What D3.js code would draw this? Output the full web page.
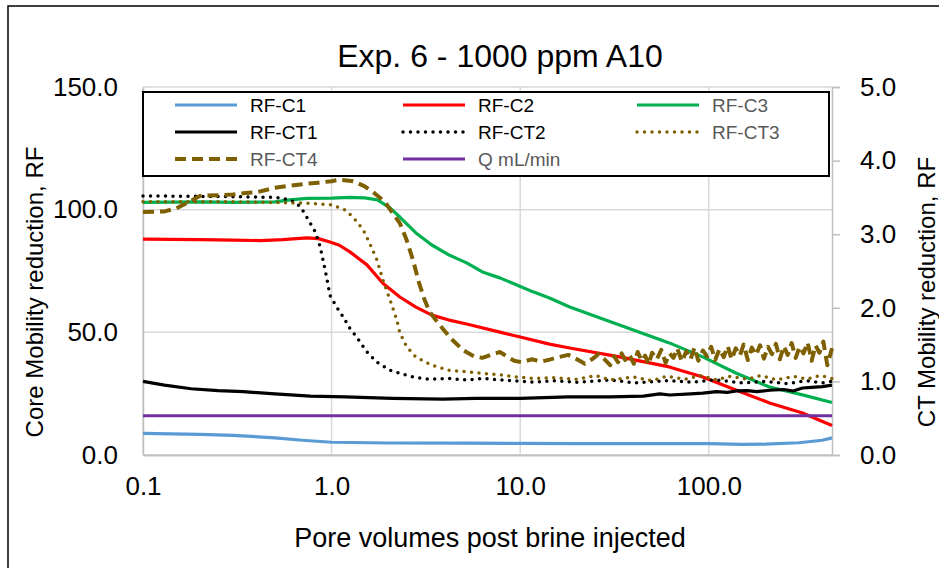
<!DOCTYPE html>
<html>
<head>
<meta charset="utf-8">
<script src="https://cdn.jsdelivr.net/npm/d3@7"></script>
<style>
  body { margin: 0; background: #fff; }
  text { font-family: "Liberation Sans", Arial, sans-serif; }
</style>
</head>
<body>
<div id="chart-area"></div>
<script>
// Data: [pore volumes, RF]
const rfC1 = [[0.1, 8.8], [0.2, 8.4], [0.3, 8.0], [0.5, 7.0], [0.7, 6.0], [1.0, 5.2], [2, 4.9], [5, 4.8],
  [10, 4.7], [20, 4.6], [50, 4.6], [100, 4.6], [150, 4.3], [200, 4.4], [300, 5.0], [400, 6.0], [450, 7.0]];
const rfC2 = [[0.1, 88], [0.2, 87.8], [0.3, 87.6], [0.42, 87.4], [0.55, 87.8], [0.74, 88.5], [0.85, 88.2],
  [0.98, 86.8], [1.1, 85.5], [1.25, 82.8], [1.54, 77.5], [1.87, 70], [2.3, 64.4], [2.8, 60.3], [3.4, 57],
  [4.2, 55], [5.2, 53.4], [7.8, 50.1], [10, 48.1], [14.3, 45.2], [18.3, 43.6], [33.6, 40], [61.7, 35.9],
  [92.9, 31.8], [139, 26.5], [210, 21.2], [314, 17.1], [450, 12]];
const rfC3 = [[0.1, 103], [0.2, 103.2], [0.3, 103], [0.5, 103.2], [0.6, 104], [0.74, 104.6], [1.0, 104.7],
  [1.25, 105], [1.5, 104.8], [1.75, 104], [2.04, 100.7], [2.3, 97], [2.8, 90.5], [3.4, 85.6], [4.2, 81.5],
  [5.2, 78.3], [6.3, 74.6], [7.8, 72.2], [9.6, 69.3], [11.7, 66.5], [14.3, 64], [18.3, 60.3], [33.6, 53],
  [61.7, 45.7], [92.9, 40], [139, 33.4], [210, 27.7], [314, 24.5], [450, 21.4]];
const rfCT1 = [[0.1, 1.0], [0.13, 0.95], [0.18, 0.9], [0.25, 0.875], [0.34, 0.86], [0.5, 0.83], [0.77, 0.8],
  [1.18, 0.79], [2.1, 0.77], [3.9, 0.76], [5.8, 0.77], [10, 0.77], [18, 0.79], [30, 0.79], [45, 0.8],
  [55, 0.83], [62, 0.815], [80, 0.83], [93, 0.84], [110, 0.86], [125, 0.85], [140, 0.87], [160, 0.875],
  [180, 0.86], [210, 0.88], [250, 0.89], [280, 0.87], [314, 0.91], [350, 0.92], [400, 0.93], [450, 0.95]];
const rfCT2 = [[0.1, 3.52], [0.3, 3.51], [0.5, 3.5], [0.55, 3.49], [0.65, 3.43], [0.7, 3.33], [0.77, 3.15],
  [0.82, 3.03], [0.87, 2.83], [0.9, 2.65], [0.94, 2.42], [0.98, 2.17], [1.07, 2.0], [1.15, 1.88],
  [1.25, 1.72], [1.36, 1.6], [1.54, 1.4], [1.74, 1.26], [2.04, 1.15], [2.3, 1.11], [2.7, 1.06], [3.3, 1.03],
  [4.2, 1.04], [5.2, 1.02], [6.3, 1.04], [7.8, 1.02], [11.7, 0.99], [15, 1.01], [20, 0.99], [30, 1.02],
  [40, 0.98], [60, 1.01], [80, 0.99], [110, 1.02], [150, 0.98], [200, 1.0], [260, 0.97], [330, 1.01],
  [400, 0.98], [450, 1.0]];
const rfCT3 = [[0.1, 3.44], [0.3, 3.44], [0.5, 3.43], [0.75, 3.42], [1.0, 3.4], [1.2, 3.32], [1.35, 3.18],
  [1.47, 3.06], [1.59, 2.88], [1.74, 2.65], [1.87, 2.38], [2.04, 2.11], [2.22, 1.83], [2.3, 1.66],
  [2.5, 1.47], [2.8, 1.33], [3.4, 1.22], [4.2, 1.15], [5.2, 1.13], [6.3, 1.11], [7.8, 1.09], [9.6, 1.06],
  [11.7, 1.04], [15, 1.05], [20, 1.03], [25, 1.08], [30, 1.02], [40, 1.06], [50, 1.01], [60, 1.07],
  [75, 1.03], [90, 1.08], [110, 1.02], [130, 1.07], [160, 1.03], [190, 1.08], [230, 1.02], [280, 1.07],
  [330, 1.03], [390, 1.08], [450, 1.04]];
const rfCT4 = [[0.1, 3.3], [0.13, 3.31], [0.15, 3.35], [0.17, 3.42], [0.2, 3.52], [0.25, 3.53], [0.3, 3.54],
  [0.35, 3.56], [0.4, 3.57], [0.5, 3.63], [0.6, 3.66], [0.7, 3.68], [0.85, 3.7], [1.0, 3.72], [1.1, 3.74],
  [1.3, 3.72], [1.5, 3.65], [1.7, 3.55], [1.9, 3.45], [2.05, 3.33], [2.3, 3.15], [2.5, 2.92], [2.7, 2.65],
  [2.9, 2.35], [3.1, 2.12], [3.3, 1.95], [3.7, 1.78], [4.3, 1.58], [5.0, 1.42], [5.7, 1.34], [6.3, 1.32],
  [7, 1.36], [7.8, 1.4], [8.5, 1.34], [9.3, 1.28], [10.2, 1.26], [11.5, 1.3], [13, 1.27], [14.5, 1.3],
  [16, 1.33], [18, 1.36], [20, 1.3], [22, 1.24], [24, 1.3], [26, 1.37], [28, 1.3],
  [30, 1.22], [31.5, 1.34], [33, 1.26], [34.5, 1.38], [36, 1.29], [38, 1.36], [40, 1.24], [42, 1.4],
  [44, 1.28], [46, 1.35], [48, 1.23], [50, 1.39], [53, 1.3], [56, 1.43], [59, 1.25], [62, 1.38],
  [65, 1.32], [68, 1.45], [72, 1.27], [76, 1.41], [80, 1.3], [84, 1.46], [88, 1.28], [93, 1.42],
  [98, 1.34], [103, 1.47], [108, 1.29], [114, 1.44], [120, 1.33], [126, 1.48], [132, 1.3], [139, 1.45],
  [146, 1.35], [153, 1.5], [161, 1.29], [169, 1.46], [178, 1.36], [187, 1.49], [196, 1.31], [206, 1.47],
  [216, 1.37], [227, 1.51], [238, 1.3], [250, 1.48], [262, 1.36], [275, 1.52], [289, 1.32], [303, 1.47],
  [318, 1.38], [334, 1.53], [351, 1.28], [368, 1.49], [386, 1.39], [405, 1.54], [425, 1.22], [450, 1.45]];
const qFlow = [[0.1, 16], [450, 16]];

const xTicks = [0.1, 1, 10, 100];
const yTicks = [0, 50, 100, 150];
const y2Ticks = [0, 1, 2, 3, 4, 5];

const series = [
  { name: "RF-C1", data: rfC1, axis: "L", color: "#5b9bd5", dash: null, w: 3.2, txt: "#000" },
  { name: "RF-C2", data: rfC2, axis: "L", color: "#ff0000", dash: null, w: 3.2, txt: "#000" },
  { name: "RF-C3", data: rfC3, axis: "L", color: "#00b050", dash: null, w: 3.2, txt: "#595959" },
  { name: "RF-CT1", data: rfCT1, axis: "R", color: "#000000", dash: null, w: 3.2, txt: "#000" },
  { name: "RF-CT2", data: rfCT2, axis: "R", color: "#000000", dash: "0 7.5", w: 3.5, txt: "#000" },
  { name: "RF-CT3", data: rfCT3, axis: "R", color: "#7f6000", dash: "0 7.5", w: 3.5, txt: "#595959" },
  { name: "RF-CT4", data: rfCT4, axis: "R", color: "#7f6000", dash: "11 6", w: 4, txt: "#595959" },
  { name: "Q mL/min", data: qFlow, axis: "L", color: "#7030a0", dash: null, w: 3.2, txt: "#595959" }
];

let margin = { lft: 143, top: 87 };
let width = 689, height = 368;

let svg = d3.select("#chart-area").append("svg")
  .attr("width", 939).attr("height", 568);

// chart border
svg.append("rect")
  .attr("x", 8).attr("y", 6).attr("width", 1000).attr("height", 1000)
  .attr("fill", "none").attr("stroke", "#000").attr("stroke-width", 1.5);

let g = svg.append("g").attr("transform", `translate(${margin.lft}, ${margin.top})`);

let x = d3.scaleLog().domain([0.1, 450]).range([0, width]);
let y = d3.scaleLinear().domain([0, 150]).range([height, 0]);
let y2 = d3.scaleLinear().domain([0, 5]).range([height, 0]);

// gridlines
g.selectAll(".hgrid").data(yTicks).enter().append("line")
  .attr("x1", 0).attr("x2", width)
  .attr("y1", d => y(d)).attr("y2", d => y(d))
  .attr("stroke", "#d9d9d9").attr("stroke-width", 1.5);
g.selectAll(".vgrid").data(xTicks).enter().append("line")
  .attr("x1", d => x(d)).attr("x2", d => x(d))
  .attr("y1", 0).attr("y2", height)
  .attr("stroke", "#d9d9d9").attr("stroke-width", 1.5);

// axes
let xAxis = g.append("g").attr("transform", `translate(0, ${height})`)
  .call(d3.axisBottom(x).tickValues(xTicks).tickSize(0).tickPadding(22).tickFormat(d3.format(".1f")));
let yAxis = g.append("g")
  .call(d3.axisLeft(y).tickValues(yTicks).tickSize(0).tickPadding(25).tickFormat(d3.format(".1f")));
let y2Axis = g.append("g").attr("transform", `translate(${width}, 0)`)
  .call(d3.axisRight(y2).tickValues(y2Ticks).tickSize(8).tickPadding(20).tickFormat(d3.format(".1f")));

[xAxis, yAxis, y2Axis].forEach(a => {
  a.select(".domain").attr("stroke", "#bfbfbf").attr("stroke-width", 1.5);
  a.selectAll(".tick line").attr("stroke", "#bfbfbf").attr("stroke-width", 1.5);
  a.selectAll("text").attr("font-size", "26px").attr("fill", "#000")
    .attr("font-family", "Liberation Sans, Arial, sans-serif");
});
xAxis.select(".domain").attr("stroke-width", 2);

// lines
let line = d3.line().x(d => x(d[0]));
series.forEach(s => {
  let yy = s.axis === "L" ? y : y2;
  g.append("path")
    .datum(s.data)
    .attr("fill", "none")
    .attr("stroke", s.color)
    .attr("stroke-width", s.w)
    .attr("stroke-dasharray", s.dash)
    .attr("stroke-linecap", s.dash && s.dash.startsWith("0") ? "round" : "butt")
    .attr("stroke-linejoin", "round")
    .attr("d", line.y(d => yy(d[1])));
});

// legend
let leg = svg.append("g").attr("transform", "translate(143, 92)");
leg.append("rect")
  .attr("width", 686).attr("height", 84)
  .attr("fill", "#fff").attr("stroke", "#000").attr("stroke-width", 2);
let colX = [32, 260, 494];
series.forEach((s, i) => {
  let cx = colX[i % 3], cy = 13 + Math.floor(i / 3) * 27;
  leg.append("line")
    .attr("x1", cx).attr("x2", cx + 62).attr("y1", cy).attr("y2", cy)
    .attr("stroke", s.color).attr("stroke-width", s.w)
    .attr("stroke-dasharray", s.dash)
    .attr("stroke-linecap", s.dash && s.dash.startsWith("0") ? "round" : "butt");
  leg.append("text")
    .attr("x", cx + 75).attr("y", cy).attr("dy", "0.36em")
    .attr("font-size", "19px").attr("fill", s.txt)
    .text(s.name);
});

// titles
svg.append("text")
  .attr("x", 500).attr("y", 55).attr("dy", "0.36em")
  .attr("text-anchor", "middle").attr("font-size", "32px")
  .text("Exp. 6 - 1000 ppm A10");
svg.append("text")
  .attr("x", 490).attr("y", 537).attr("dy", "0.36em")
  .attr("text-anchor", "middle").attr("font-size", "27px")
  .text("Pore volumes post brine injected");
svg.append("text")
  .attr("transform", "translate(34, 292) rotate(-90)")
  .attr("dy", "0.36em")
  .attr("text-anchor", "middle").attr("font-size", "24px")
  .text("Core Mobility reduction, RF");
svg.append("text")
  .attr("transform", "translate(926, 292) rotate(-90)")
  .attr("dy", "0.36em")
  .attr("text-anchor", "middle").attr("font-size", "24px")
  .text("CT Mobility reduction, RF");
</script>
</body>
</html>
